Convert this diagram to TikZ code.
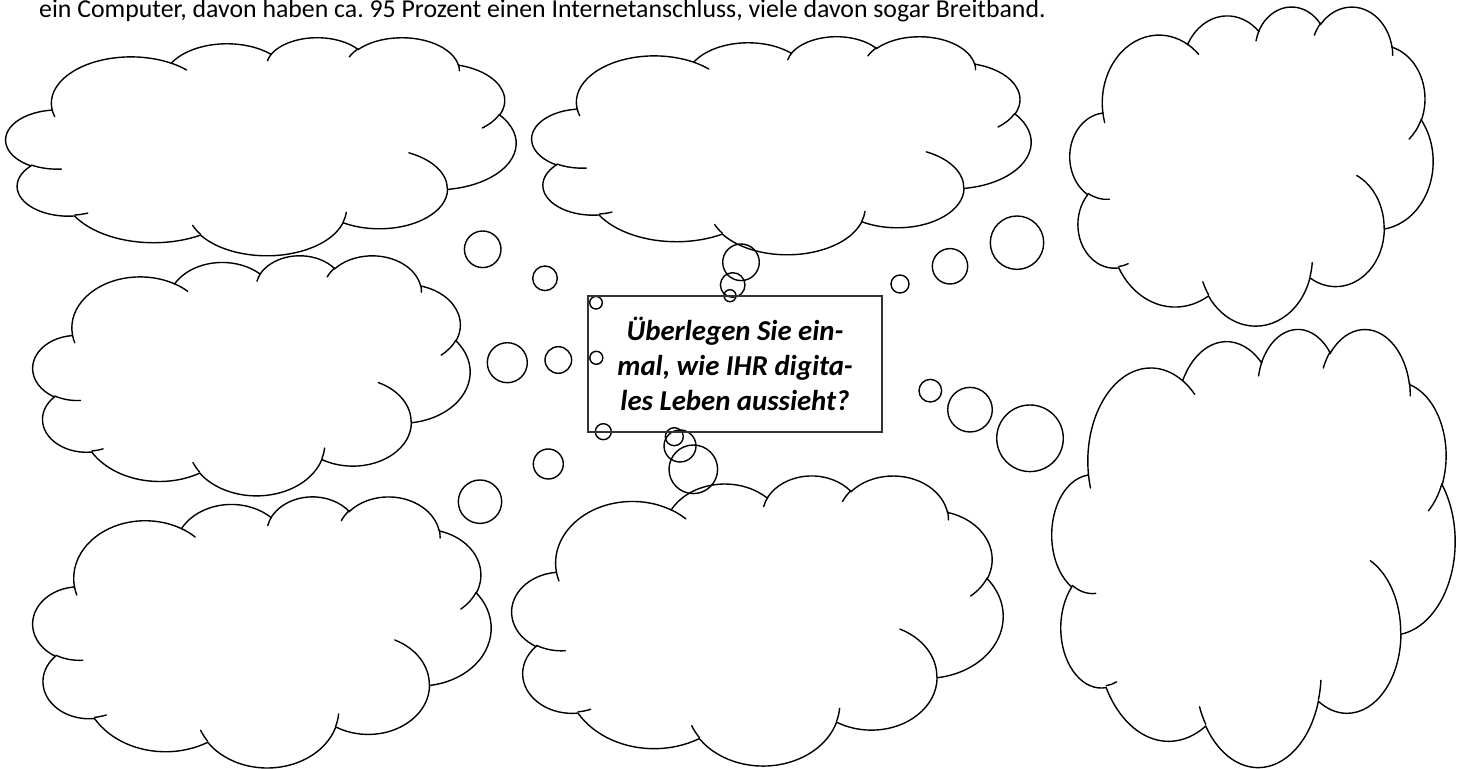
\documentclass[tikz,border=0pt]{standalone}
\usepackage{fontspec}
\setmainfont{Carlito}
\frenchspacing
% arc definitions: name, wR, hR, stAng, swAng (DrawingML visual angles, y down)
\newcommand\defarc[5]{%
  \pgfmathsetmacro\tmpS{-((#4) + Mod(atan2((#2)*sin(#4), (#3)*cos(#4)) - (#4) + 180, 360) - 180)}%
  \pgfmathsetmacro\tmpE{-((#4)+(#5) + Mod(atan2((#2)*sin((#4)+(#5)), (#3)*cos((#4)+(#5))) - ((#4)+(#5)) + 180, 360) - 180)}%
  \expandafter\xdef\csname cS#1\endcsname{\tmpS}%
  \expandafter\xdef\csname cE#1\endcsname{\tmpE}%
  \expandafter\xdef\csname cA#1\endcsname{#2}%
  \expandafter\xdef\csname cB#1\endcsname{#3}%
}
\defarc{1}{6.753}{9.190}{-190.487483}{123.780533}
\defarc{2}{5.333}{7.267}{-144.102383}{89.945233}
\defarc{3}{4.365}{5.945}{-145.807917}{99.723017}
\defarc{4}{4.857}{6.595}{-130.986067}{117.241733}
\defarc{5}{5.333}{7.273}{-78.708883}{109.026917}
\defarc{6}{6.775}{9.220}{-46.26725}{130.269}
\defarc{7}{5.785}{7.867}{0.625017}{114.033333}
\defarc{8}{6.752}{9.215}{22.4516}{115.17255}
\defarc{9}{7.720}{10.543}{66.242633}{75.711017}
\defarc{10}{4.360}{5.918}{-274.942083}{146.735567}
\defarc{11}{4.345}{5.945}{-246.8285}{152.51885}
\defarc{d1}{4.345}{5.945}{86.742}{26.4295}
\defarc{d2}{4.360}{5.918}{73.610467}{11.447467}
\defarc{d3}{6.752}{9.215}{137.62415}{14.0811}
\defarc{d4}{6.752}{9.215}{6.453267}{15.99835}
\defarc{d5}{5.785}{7.867}{-70.29235}{70.917367}
\defarc{d6}{5.333}{7.273}{30.318033}{27.7515}
\defarc{d7}{4.857}{6.595}{-13.744333}{14.85375}
\defarc{d8}{4.857}{6.595}{-149.18145}{18.195367}
\defarc{d9}{4.365}{5.945}{-163.494267}{17.68635}
\defarc{d10}{6.753}{9.190}{-66.70695}{12.31935}
\defarc{d11}{6.753}{9.190}{157.65435}{11.858167}
\newcommand\ca[1]{arc[start angle=\csname cS#1\endcsname, end angle=\csname cE#1\endcsname, x radius={\csname cA#1\endcsname*\cldsx}, y radius={\csname cB#1\endcsname*\cldsy}]}
\newcommand\cloudshape[4]{%
  \pgfmathsetmacro\cldsx{(#3)/43.2}%
  \pgfmathsetmacro\cldsy{(#4)/43.2}%
  \begin{scope}[shift={(#1,{768-(#2)})}]
    \draw[cloudline] (3.9*\cldsx, -14.37*\cldsy) \ca{1} \ca{2} \ca{3} \ca{4} \ca{5} \ca{6} \ca{7} \ca{8} \ca{9} \ca{10} \ca{11} -- cycle;
    \draw[cloudline]
      (4.693*\cldsx, -26.177*\cldsy) \ca{d1}
      (6.928*\cldsx, -34.899*\cldsy) \ca{d2}
      (16.478*\cldsx, -39.090*\cldsy) \ca{d3}
      (28.827*\cldsx, -34.751*\cldsy) \ca{d4}
      (34.129*\cldsx, -22.954*\cldsy) \ca{d5}
      (41.798*\cldsx, -15.354*\cldsy) \ca{d6}
      (38.324*\cldsx, -5.426*\cldsy) \ca{d7}
      (29.078*\cldsx, -3.952*\cldsy) \ca{d8}
      (22.141*\cldsx, -4.720*\cldsy) \ca{d9}
      (14.000*\cldsx, -5.192*\cldsy) \ca{d10}
      (4.127*\cldsx, -15.789*\cldsy) \ca{d11};
  \end{scope}
}
\newcommand\bub[3]{\draw[bubline] (#1,{768-(#2)}) circle[radius=#3];}
\begin{document}
\begin{tikzpicture}[x=1pt, y=1pt,
  cloudline/.style={line width=1.4pt, black, line cap=round},
  bubline/.style={line width=1.4pt, black},
  boxnode/.style={draw=black!80, line width=1.6pt, minimum width=294pt, minimum height=136pt, inner sep=0pt, align=center, font=\bfseries\itshape\fontsize{28.8}{35}\selectfont},
  hdrnode/.style={anchor=base west, inner sep=0pt, font=\fontsize{25.8}{30}\selectfont}]
\useasboundingbox[fill=white] (0,0) rectangle (1466,768);
\node[hdrnode] (hdr) at (39,750) {ein Computer, davon haben ca. 95 Prozent einen Internetanschluss, viele davon sogar Breitband.};
% clouds
\cloudshape{6}{37}{510}{218}
\cloudshape{532}{36}{499}{218}
\cloudshape{1070}{6}{363}{319}
\cloudshape{33}{255}{437}{240}
\cloudshape{33}{496}{458}{271}
\cloudshape{512}{475}{491}{290}
\cloudshape{1052}{328}{403}{438}
% bubbles left
\bub{482.7}{249.3}{18.3}
\bub{545}{278.3}{12.3}
\bub{507.3}{362.7}{20}
\bub{558.3}{360}{13.3}
\bub{548.3}{464}{15}
\bub{480}{501.7}{21.7}
% bubbles on box
\bub{596}{302.7}{6.3}
\bub{596.3}{357.8}{6.5}
\bub{603.3}{431.7}{8}
% bubbles top
\bub{741}{262.3}{18.3}
\bub{732.7}{285}{12.3}
\bub{730}{295.7}{6}
% bubbles bottom
\bub{674.3}{436.7}{9}
\bub{680}{446}{16}
\bub{693.3}{469.3}{24.3}
% bubbles right
\bub{900}{284}{9}
\bub{950}{266.3}{17.7}
\bub{1017}{242.7}{26.7}
\bub{930.3}{390.7}{11.3}
\bub{970}{409.7}{22.3}
\bub{1030}{438.3}{33.3}
% central box
\node[boxnode] (q) at (735,404) {Überlegen Sie ein-\\mal, wie IHR digita-\\les Leben aussieht?};
\end{tikzpicture}
\end{document}
